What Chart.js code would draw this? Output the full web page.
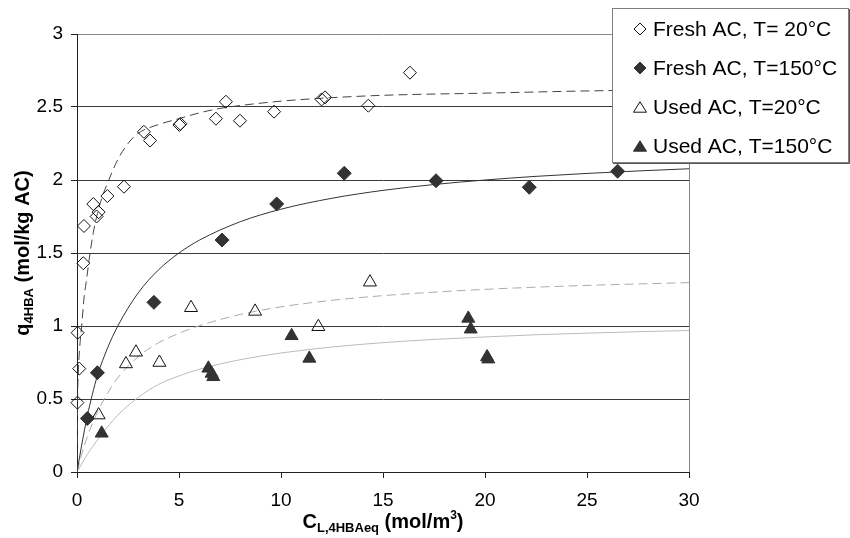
<!DOCTYPE html>
<html>
<head>
<meta charset="utf-8">
<script src="https://cdn.jsdelivr.net/npm/chart.js@4.4.0/dist/chart.umd.min.js"></script>
<style>
  html, body { margin: 0; padding: 0; background: #fff; }
  #wrap { position: relative; width: 850px; height: 538px; }
</style>
</head>
<body>
<div id="wrap"><canvas id="chart"></canvas></div>
<script>
// measured points
const fresh20C = [0.02, 0.11, 0.03, 0.31, 0.34, 0.80, 0.96, 1.06, 1.49, 2.30, 3.28, 3.58, 5.02, 5.07, 6.81, 7.30, 7.99, 9.66, 11.99, 12.16, 14.28, 16.32]
const fresh20Q = [0.475, 0.708, 0.954, 1.43, 1.685, 1.835, 1.75, 1.78, 1.89, 1.954, 2.33, 2.27, 2.377, 2.385, 2.42, 2.536, 2.406, 2.468, 2.552, 2.566, 2.509, 2.735]

const fresh150C = [0.51, 1.0, 3.77, 7.11, 9.79, 13.1, 17.6, 22.17, 26.5]
const fresh150Q = [0.367, 0.68, 1.162, 1.589, 1.836, 2.046, 1.995, 1.95, 2.06]

const used20C = [1.06, 2.40, 2.89, 4.04, 5.59, 8.73, 11.83, 14.36]
const used20Q = [0.39, 0.74, 0.82, 0.75, 1.125, 1.10, 0.995, 1.30]

const used150C = [1.21, 6.44, 6.60, 6.68, 10.52, 11.39, 19.18, 19.30, 20.10, 20.16]
const used150Q = [0.265, 0.71, 0.675, 0.652, 0.933, 0.778, 1.052, 0.978, 0.788, 0.773]

// fitted curves
const fitFresh20C = [0, 0.03, 0.07, 0.13, 0.23, 0.35, 0.45, 0.64, 0.8, 1.0, 1.25, 1.5, 2.0, 2.5, 3.0, 4.0, 5.0, 6.0, 7.0, 8.0, 10, 12, 15, 20, 25, 30]
const fitFresh20Q = [0, 0.5, 0.7, 0.85, 1.0, 1.2, 1.3, 1.5, 1.64, 1.77, 1.89, 1.98, 2.14, 2.25, 2.32, 2.38, 2.42, 2.46, 2.49, 2.51, 2.54, 2.56, 2.58, 2.595, 2.61, 2.62]

const fitC = [0, 0.25, 0.5, 0.75, 1, 1.5, 2, 3, 4, 5, 6, 8, 10, 12.5, 15, 17.5, 20, 22.5, 25, 27.5, 30]
const fitFresh150Q = [0, 0.2, 0.38, 0.53, 0.66, 0.85, 1.0, 1.227, 1.385, 1.5, 1.588, 1.714, 1.8, 1.875, 1.929, 1.969, 2.0, 2.025, 2.045, 2.062, 2.077]
const fitUsed20Q = [0, 0.13, 0.24, 0.33, 0.41, 0.54, 0.645, 0.79, 0.885, 0.95, 1.002, 1.079, 1.131, 1.176, 1.208, 1.232, 1.251, 1.266, 1.278, 1.288, 1.297]
const fitUsed150Q = [0, 0.06, 0.12, 0.17, 0.22, 0.31, 0.39, 0.51, 0.6, 0.658, 0.704, 0.769, 0.815, 0.856, 0.886, 0.908, 0.925, 0.94, 0.951, 0.961, 0.969]

const xTicks = [0, 5, 10, 15, 20, 25, 30]
const yTicks = [0, 0.5, 1, 1.5, 2, 2.5, 3]

const legendLabels = ["Fresh AC, T= 20\u00b0C", "Fresh AC, T=150\u00b0C", "Used AC, T=20\u00b0C", "Used AC, T=150\u00b0C"]

const FONT = "'Liberation Sans', Arial, sans-serif"
const pts = (xs, ys) => xs.map((x, i) => ({ x, y: ys[i] }))

function marker(ctx, kind, filled, x, y, r) {
  ctx.beginPath()
  if (kind === "diamond") {
    ctx.moveTo(x, y - r); ctx.lineTo(x + r, y); ctx.lineTo(x, y + r); ctx.lineTo(x - r, y)
  } else {
    const h = r * 1.6
    ctx.moveTo(x, y - h / 2); ctx.lineTo(x + r, y + h / 2); ctx.lineTo(x - r, y + h / 2)
  }
  ctx.closePath()
  if (filled) { ctx.fillStyle = "#333"; ctx.fill() }
  ctx.strokeStyle = filled ? "#333" : "#111"
  ctx.lineWidth = 1
  ctx.stroke()
}

function drawRich(ctx, parts, cx, cy) {
  let total = 0
  parts.forEach(p => { ctx.font = `bold ${p.size}px ${FONT}`; p.w = ctx.measureText(p.t).width; total += p.w })
  let x = cx - total / 2
  ctx.textBaseline = "alphabetic"
  ctx.textAlign = "left"
  parts.forEach(p => {
    ctx.font = `bold ${p.size}px ${FONT}`
    ctx.fillText(p.t, x, cy + (p.dy || 0))
    x += p.w
  })
}

const overlay = {
  id: "overlay",
  afterDraw(chart) {
    const ctx = chart.ctx
    const a = chart.chartArea
    ctx.save()
    ctx.fillStyle = "#000"
    // x title
    drawRich(ctx, [
      { t: "C", size: 20 },
      { t: "L,4HBAeq", size: 13, dy: 4 },
      { t: " (mol/m", size: 20 },
      { t: "3", size: 12, dy: -9 },
      { t: ")", size: 20 }
    ], (a.left + a.right) / 2, 528)
    // y title
    ctx.save()
    ctx.translate(29, (a.top + a.bottom) / 2)
    ctx.rotate(-Math.PI / 2)
    drawRich(ctx, [
      { t: "q", size: 20 },
      { t: "4HBA", size: 13, dy: 4 },
      { t: " (mol/kg AC)", size: 20 }
    ], 0, 0)
    ctx.restore()

    // legend
    const lx = 612, ly = 8, lw = 236, lh = 154
    ctx.fillStyle = "#fff"
    ctx.fillRect(lx, ly, lw, lh)
    ctx.strokeStyle = "#808080"
    ctx.lineWidth = 1
    ctx.strokeRect(lx + 0.5, ly + 0.5, lw, lh)
    ctx.strokeStyle = "#555"
    ctx.beginPath()
    ctx.moveTo(lx + 1, ly + lh + 1.5); ctx.lineTo(lx + lw + 1.5, ly + lh + 1.5); ctx.lineTo(lx + lw + 1.5, ly + 1)
    ctx.stroke()
    const kinds = [["diamond", false], ["diamond", true], ["triangle", false], ["triangle", true]]
    const rows = [29, 68, 107, 146]
    ctx.font = `21px ${FONT}`
    ctx.textBaseline = "middle"
    ctx.textAlign = "left"
    legendLabels.forEach((lab, i) => {
      marker(ctx, kinds[i][0], kinds[i][1], 640, rows[i], kinds[i][0] === "diamond" ? 6 : 6.5)
      ctx.fillStyle = "#000"
      ctx.fillText(lab, 653, rows[i] + 1)
    })
    ctx.restore()
  }
}

const pointSet = (label, xs, ys, style, filled, r) => ({
  label,
  data: pts(xs, ys),
  showLine: false,
  clip: false,
  pointStyle: style,
  pointRadius: r,
  pointBorderWidth: 1,
  pointBorderColor: filled ? "#333" : "#111",
  pointBackgroundColor: filled ? "#333" : "rgba(0,0,0,0)"
})

const lineSet = (xs, ys, color, dash) => ({
  label: "",
  data: pts(xs, ys),
  showLine: true,
  borderColor: color,
  borderWidth: 1,
  borderDash: dash,
  pointRadius: 0,
  cubicInterpolationMode: "monotone"
})

new Chart(document.getElementById("chart"), {
  type: "scatter",
  data: {
    datasets: [
      pointSet(legendLabels[0], fresh20C, fresh20Q, "rectRot", false, 6.5),
      pointSet(legendLabels[1], fresh150C, fresh150Q, "rectRot", true, 7),
      pointSet(legendLabels[2], used20C, used20Q, "triangle", false, 7.5),
      pointSet(legendLabels[3], used150C, used150Q, "triangle", true, 7.5),
      lineSet(fitFresh20C, fitFresh20Q, "#444", [9, 5]),
      lineSet(fitC, fitFresh150Q, "#333", []),
      lineSet(fitC, fitUsed20Q, "#aaa", [9, 5]),
      lineSet(fitC, fitUsed150Q, "#bbb", [])
    ]
  },
  options: {
    responsive: true,
    maintainAspectRatio: false,
    animation: false,
    layout: { padding: { left: 0, right: 161, top: 34, bottom: 0 } },
    plugins: { legend: { display: false }, tooltip: { enabled: false } },
    scales: {
      x: {
        type: "linear",
        min: 0,
        max: 30,
        afterFit: (s) => { s.height = 66 },
        afterBuildTicks: (s) => { s.ticks = xTicks.map(v => ({ value: v })) },
        border: { color: "#222", width: 1 },
        grid: {
          color: (c) => (c.tick && c.tick.value === 30 ? "#888" : "rgba(0,0,0,0)"),
          tickColor: "#222",
          tickLength: 6
        },
        ticks: { color: "#000", font: { family: FONT, size: 19 }, padding: 11, maxRotation: 0, callback: (v) => String(v) }
      },
      y: {
        type: "linear",
        min: 0,
        max: 3,
        afterFit: (s) => { s.width = 77 },
        afterBuildTicks: (s) => { s.ticks = yTicks.map(v => ({ value: v })) },
        border: { color: "#222", width: 1 },
        grid: {
          color: (c) => (c.tick && c.tick.value === 3 ? "#888" : "#3a3a3a"),
          tickColor: "#222",
          tickLength: 6
        },
        ticks: { color: "#000", font: { family: FONT, size: 19 }, padding: 8, callback: (v) => String(v) }
      }
    }
  },
  plugins: [overlay]
})
</script>
</body>
</html>
